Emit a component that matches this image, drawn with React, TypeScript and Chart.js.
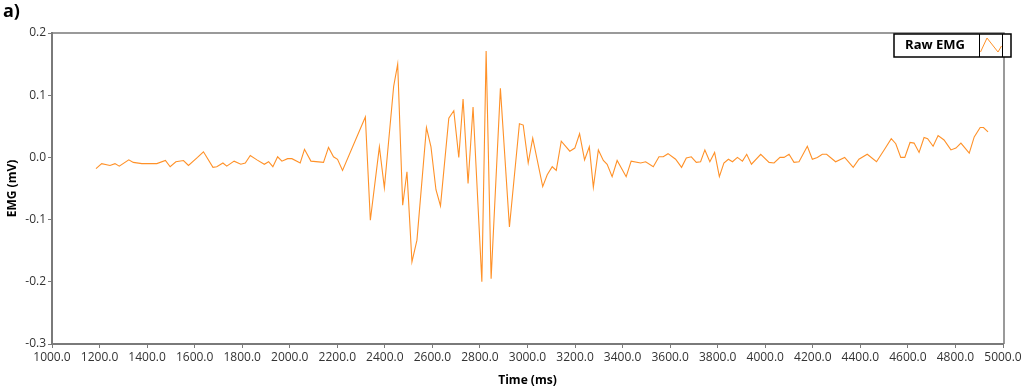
import React, { useEffect, useRef } from "react";
import { Chart, registerables } from "chart.js";

Chart.register(...registerables);

const timeMs = [
  1185, 1209, 1244, 1265, 1283, 1323, 1342, 1378, 1441, 1477, 1497, 1521, 1553, 1574, 1612, 1637,
  1677, 1693, 1719, 1735, 1766, 1794, 1813, 1834, 1862, 1893, 1911, 1929, 1949, 1967, 1991, 2009,
  2044, 2062, 2089, 2142, 2163, 2184, 2201, 2222, 2318, 2339, 2377, 2398, 2437, 2454, 2475, 2493,
  2514, 2535, 2575, 2594, 2615, 2634, 2669, 2690, 2711, 2729, 2750, 2771, 2808, 2826, 2847, 2886,
  2924, 2966, 2982, 3003, 3022, 3064, 3083, 3104, 3121, 3142, 3178, 3199, 3219, 3240, 3260, 3277,
  3298, 3319, 3335, 3356, 3377, 3415, 3436, 3476, 3497, 3529, 3553, 3571, 3591, 3623, 3648, 3668,
  3689, 3710, 3728, 3746, 3767, 3787, 3807, 3826, 3845, 3862, 3883, 3904, 3922, 3942, 3981, 4016,
  4037, 4062, 4079, 4100, 4121, 4142, 4177, 4198, 4219, 4240, 4258, 4296, 4334, 4370, 4394, 4429,
  4468, 4502, 4530, 4549, 4570, 4587, 4609, 4626, 4647, 4668, 4683, 4706, 4727, 4752, 4781, 4802,
  4823, 4858, 4879, 4904, 4918, 4937,
];

const rawEmgMv = [
  -0.018, -0.010, -0.013, -0.010, -0.014, -0.004, -0.008, -0.010, -0.010, -0.005, -0.015, -0.007, -0.005, -0.013, 0.000, 0.009,
  -0.016, -0.015, -0.009, -0.014, -0.006, -0.011, -0.009, 0.003, -0.004, -0.011, -0.007, -0.015, 0.001, -0.006, -0.002, -0.002,
  -0.009, 0.013, -0.006, -0.008, 0.016, 0.001, -0.003, -0.021, 0.065, -0.101, 0.017, -0.049, 0.114, 0.150, -0.077, -0.023,
  -0.168, -0.133, 0.048, 0.017, -0.052, -0.078, 0.063, 0.075, 0.000, 0.094, -0.042, 0.081, -0.200, 0.171, -0.195, 0.111,
  -0.112, 0.054, 0.052, -0.009, 0.031, -0.047, -0.028, -0.015, -0.021, 0.026, 0.010, 0.015, 0.038, -0.004, 0.017, -0.048,
  0.012, -0.005, -0.011, -0.031, -0.005, -0.031, -0.006, -0.009, -0.007, -0.015, 0.001, 0.001, 0.006, -0.003, -0.016, -0.001,
  0.001, -0.008, -0.007, 0.012, -0.007, 0.008, -0.031, -0.009, -0.003, -0.007, 0.000, -0.006, 0.005, -0.011, 0.005, -0.008,
  -0.009, 0.000, 0.000, 0.005, -0.008, -0.007, 0.018, -0.003, 0.000, 0.005, 0.005, -0.007, 0.000, -0.016, -0.003, 0.005,
  -0.007, 0.013, 0.030, 0.022, 0.000, 0.000, 0.024, 0.023, 0.008, 0.032, 0.030, 0.018, 0.035, 0.028, 0.012, 0.015,
  0.023, 0.007, 0.033, 0.048, 0.048, 0.041,
];

const xRange = [1000, 5000];
const xStep = 200;
const yRange = [-0.3, 0.2];
const yStep = 0.1;
const seriesLabel = "Raw EMG";
const xTitle = "Time (ms)";
const yTitle = "EMG (mV)";
const panelLabel = "a)";

const LINE_COLOR = "rgb(255,145,40)";
const AXIS_COLOR = "#7a7a7a";
const FONT = "'Open Sans', 'Noto Sans', sans-serif";

const decorPlugin = {
  id: "decor",
  afterDraw(chart: any) {
    const { ctx, chartArea } = chart;
    ctx.save();
    // frame top/right
    ctx.strokeStyle = AXIS_COLOR;
    ctx.lineWidth = 1.5;
    ctx.beginPath();
    ctx.moveTo(chartArea.left, chartArea.top);
    ctx.lineTo(chartArea.right + 1, chartArea.top);
    ctx.lineTo(chartArea.right + 1, chartArea.bottom);
    ctx.stroke();

    // panel label
    ctx.fillStyle = "#000";
    ctx.font = `bold 18px ${FONT}`;
    ctx.textAlign = "left";
    ctx.textBaseline = "middle";
    ctx.fillText(panelLabel, 3, 12);

    // legend box
    const lx = 894, ly = 34, lw = 117, lh = 23;
    ctx.fillStyle = "#fff";
    ctx.fillRect(lx, ly, lw, lh);
    ctx.strokeStyle = "#000";
    ctx.lineWidth = 1.5;
    ctx.strokeRect(lx, ly, lw, lh);
    ctx.lineWidth = 1;
    ctx.beginPath();
    ctx.moveTo(979.5, ly);
    ctx.lineTo(979.5, ly + lh);
    ctx.moveTo(1002.5, ly);
    ctx.lineTo(1002.5, ly + lh);
    ctx.stroke();
    ctx.fillStyle = "#000";
    ctx.font = `bold 13px ${FONT}`;
    ctx.textAlign = "center";
    ctx.textBaseline = "middle";
    ctx.fillText(seriesLabel, 935, ly + lh / 2);
    ctx.strokeStyle = LINE_COLOR;
    ctx.lineWidth = 1;
    ctx.beginPath();
    ctx.moveTo(980.5, 52);
    ctx.lineTo(987, 38);
    ctx.lineTo(998, 52);
    ctx.lineTo(1001.5, 46);
    ctx.stroke();
    ctx.restore();
  },
};

export default function App() {
  const ref = useRef<HTMLCanvasElement>(null);

  useEffect(() => {
    document.body.style.margin = "0";
    const canvas = ref.current;
    if (!canvas) return;
    const data = timeMs.map((t, i) => ({ x: t, y: rawEmgMv[i] }));
    const chart = new Chart(canvas, {
      type: "line",
      data: {
        datasets: [
          {
            label: seriesLabel,
            data,
            borderColor: LINE_COLOR,
            backgroundColor: LINE_COLOR,
            borderWidth: 1.1,
            pointRadius: 0,
            tension: 0,
          },
        ],
      },
      options: {
        animation: false,
        responsive: false,
        maintainAspectRatio: false,
        layout: { padding: { top: 33, right: 21, left: 0, bottom: 0 } },
        plugins: {
          legend: { display: false },
          tooltip: { enabled: false },
          title: { display: false },
        },
        scales: {
          x: {
            type: "linear",
            min: xRange[0],
            max: xRange[1],
            afterFit(scale: any) {
              scale.height = 45;
            },
            ticks: {
              stepSize: xStep,
              autoSkip: false,
              maxRotation: 0,
              minRotation: 0,
              padding: 2,
              color: "#333",
              font: { family: FONT, size: 12 },
              callback: (v: any) => Number(v).toFixed(1),
            },
            grid: {
              drawOnChartArea: false,
              drawTicks: true,
              tickLength: 4,
              tickColor: AXIS_COLOR,
            },
            border: { color: AXIS_COLOR, width: 2 },
            title: {
              display: true,
              text: xTitle,
              color: "#000",
              font: { family: FONT, size: 12, weight: "bold" },
              padding: { top: 0, bottom: 1 },
            },
          },
          y: {
            type: "linear",
            min: yRange[0],
            max: yRange[1],
            afterFit(scale: any) {
              scale.width = 52;
            },
            ticks: {
              stepSize: yStep,
              padding: 2,
              color: "#333",
              font: { family: FONT, size: 12 },
              callback: (v: any) => Number(v).toFixed(1),
            },
            grid: {
              drawOnChartArea: false,
              drawTicks: true,
              tickLength: 4,
              tickColor: AXIS_COLOR,
            },
            border: { color: AXIS_COLOR, width: 2 },
            title: {
              display: true,
              text: yTitle,
              color: "#000",
              font: { family: FONT, size: 12, weight: "bold" },
              padding: { top: 5, bottom: 0 },
            },
          },
        },
      },
      plugins: [decorPlugin],
    });
    return () => chart.destroy();
  }, []);

  return <canvas ref={ref} width={1024} height={389} style={{ display: "block" }} />;
}
